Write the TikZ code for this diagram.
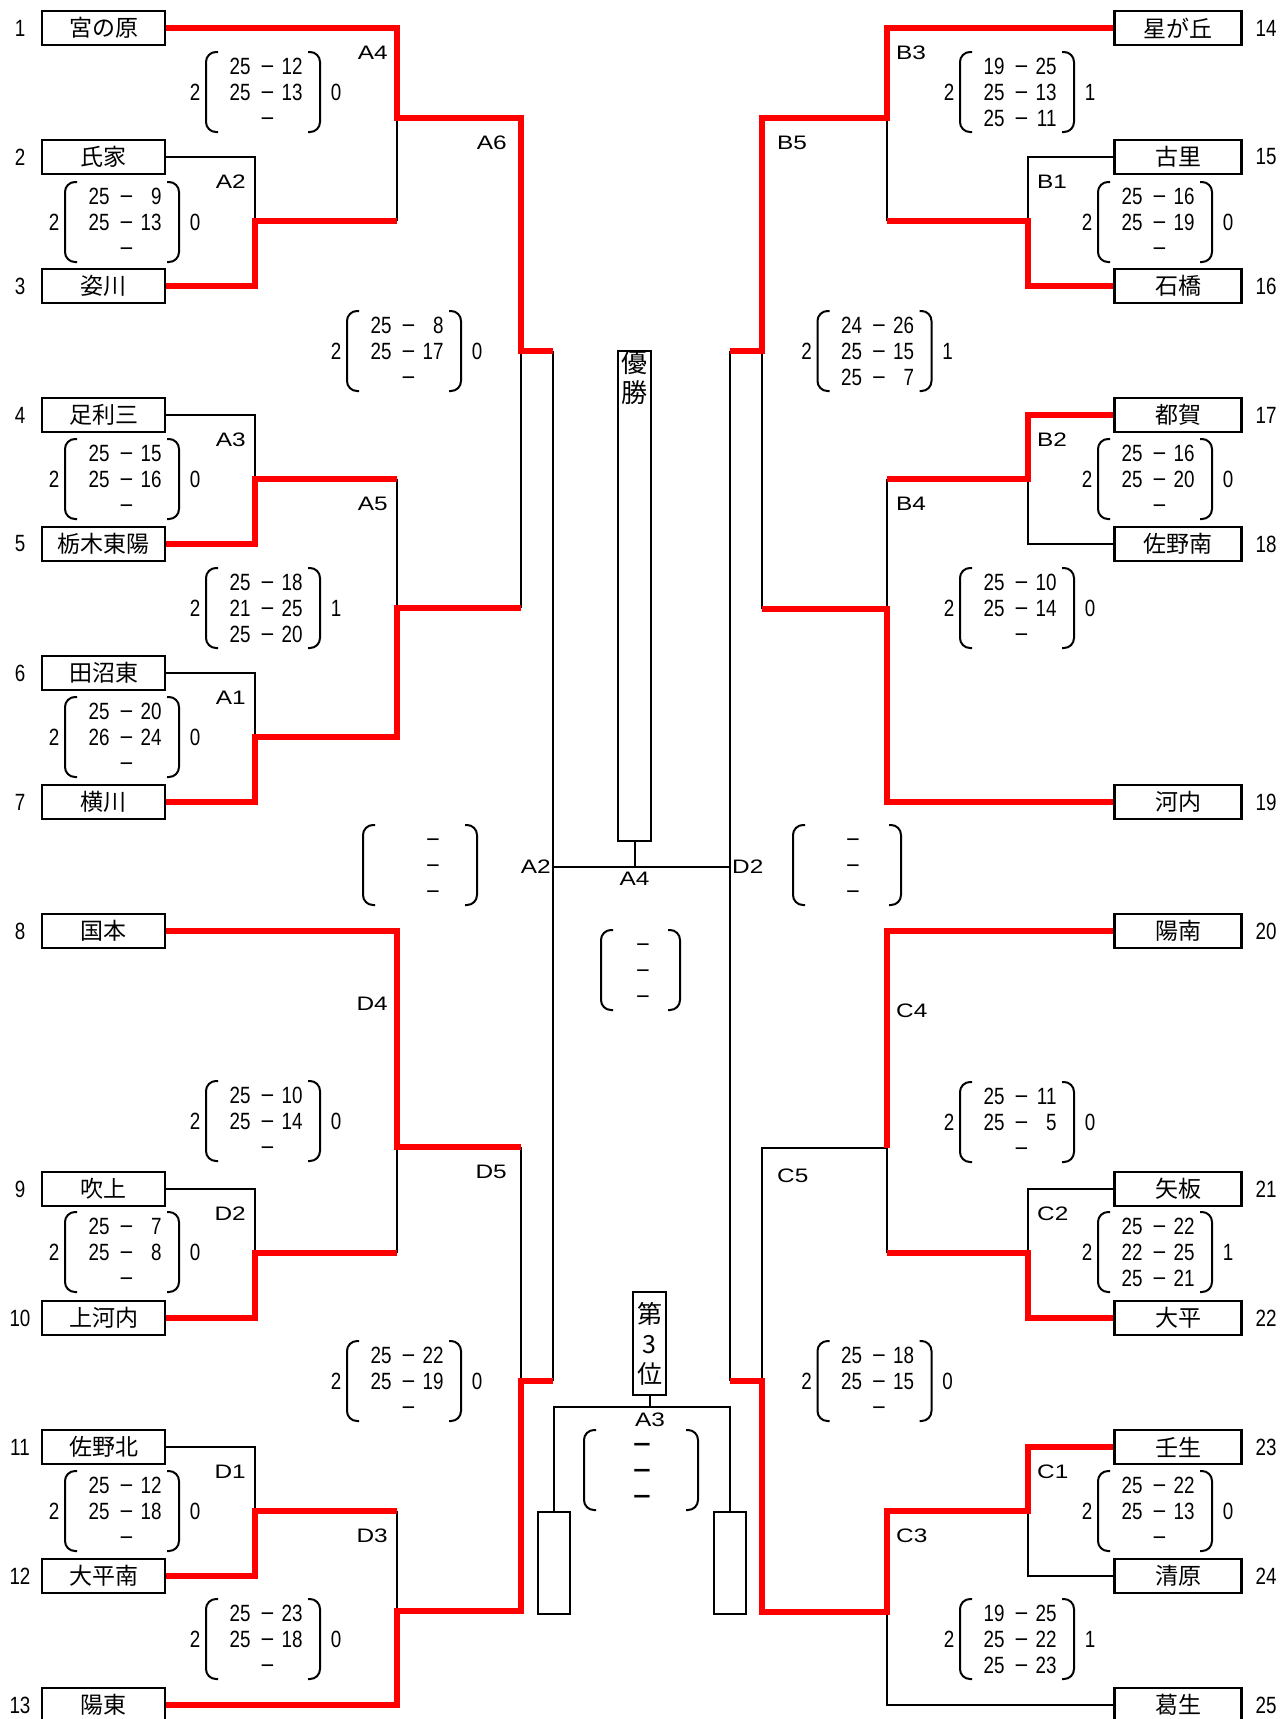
\documentclass[tikz,border=0pt]{standalone}
\usepackage{fontspec}
\setmainfont{Liberation Sans}
\newfontfamily\cjk{Noto Sans CJK JP}
\newfontfamily\scorefont[FakeStretch=0.8]{Liberation Sans}
\newfontfamily\labelfont[FakeStretch=1.25]{Liberation Sans}
\newfontfamily\dashfont[FakeStretch=1.3]{Liberation Sans}

\definecolor{winred}{RGB}{255,0,0}

\tikzset{
  team/.style={draw, line width=2.5pt, fill=white, minimum width=123pt, minimum height=34pt,
    inner sep=0pt, font=\cjk\fontsize{23}{23}\selectfont},
  rteam/.style={team, minimum width=127pt},
  seed/.style={font=\scorefont\fontsize{23.5}{26}\selectfont, inner sep=0pt},
  setrow/.style={font=\scorefont\fontsize{23.5}{26}\selectfont, inner sep=0pt, anchor=base},
  plaindash/.style={font=\rmfamily\fontsize{23.5}{26}\selectfont},
  bigdash/.style={font=\dashfont\bfseries\fontsize{23.5}{26}\selectfont},
  rnd/.style={font=\labelfont\fontsize{19.5}{19.5}\selectfont, inner sep=0pt},
  lose/.style={line width=2pt, black},
  win/.style={line width=6pt, winred},
  paren/.style={line width=2pt, rounded corners=10pt},
  titlebox/.style={draw, line width=2.5pt, minimum width=33pt, inner sep=0pt},
}

% minus of a score row
\newcommand{\mn}{{\rmfamily −}}
% one score row: left points, minus, right points
\newcommand{\sr}[2]{\makebox[21pt][r]{#1}\hspace{11pt}\makebox[12pt]{\mn}\hspace{8pt}\makebox[21pt][r]{#2}\hspace{3pt}}

% name, x, y, sets won (left), sets won (right), row1, row2, row3
\newcommand{\setscore}[8]{%
  \begin{scope}[shift={(#2,#3)}]
    \draw[paren] (-45,-40) -- (-57,-40) -- (-57,40) -- (-45,40);
    \draw[paren] (45,-40) -- (57,-40) -- (57,40) -- (45,40);
    \node[seed] (#1-w) at (-68,0) {#4};
    \node[seed] (#1-l) at (73,0) {#5};
    \node[setrow] (#1-1) at (3,-17.6) {#6};
    \node[setrow] (#1-2) at (3,8.4) {#7};
    \node[setrow] (#1-3) at (3,34.4) {#8};
  \end{scope}}

% name, x, y, half width, dash offset, dash style
\newcommand{\blankscore}[6]{%
  \begin{scope}[shift={(#2,#3)}]
    \draw[paren] (12-#4,-40) -- (-#4,-40) -- (-#4,40) -- (12-#4,40);
    \draw[paren] (#4-12,-40) -- (#4,-40) -- (#4,40) -- (#4-12,40);
    \foreach \k/\dy in {1/-17.6, 2/8.4, 3/34.4}
      \node[setrow, #6] (#1-\k) at (#5,\dy) {−};
  \end{scope}}

\begin{document}
\begin{tikzpicture}[x=1pt, y=-1pt]
  \useasboundingbox (0,0) rectangle (1284,1719);

  % teams
  \foreach \n/\r/\name in {1/0/宮の原, 2/1/氏家, 3/2/姿川, 4/3/足利三, 5/4/栃木東陽,
      6/5/田沼東, 7/6/横川, 8/7/国本, 9/9/吹上, 10/10/上河内, 11/11/佐野北,
      12/12/大平南, 13/13/陽東}{
    \node[team] (t\n) at (103.5,{28+129*\r}) {\name};
    \node[seed] (n\n) at (20,{28+129*\r}) {\n};
  }
  \foreach \n/\r/\name in {14/0/星が丘, 15/1/古里, 16/2/石橋, 17/3/都賀, 18/4/佐野南,
      19/6/河内, 20/7/陽南, 21/9/矢板, 22/10/大平, 23/11/壬生, 24/12/清原, 25/13/葛生}{
    \node[rteam] (t\n) at (1178,{28+129*\r}) {\name};
    \node[seed] (n\n) at (1266,{28+129*\r}) {\n};
  }

  % match points
  \coordinate (mA2) at (255,221);  \coordinate (mA4) at (397,118);
  \coordinate (mA6) at (521,351);  \coordinate (mA3) at (255,479);
  \coordinate (mA5) at (397,608);  \coordinate (mA1) at (255,737);
  \coordinate (mD4) at (397,1147); \coordinate (mD2) at (255,1253);
  \coordinate (mD5) at (521,1381); \coordinate (mD1) at (255,1511);
  \coordinate (mD3) at (397,1611);
  \coordinate (mB1) at (1028,221); \coordinate (mB3) at (887,118);
  \coordinate (mB5) at (762,351);  \coordinate (mB2) at (1028,479);
  \coordinate (mB4) at (887,609);  \coordinate (mC4) at (887,1148);
  \coordinate (mC2) at (1028,1253);\coordinate (mC5) at (762,1381);
  \coordinate (mC1) at (1028,1511);\coordinate (mC3) at (887,1612);
  \coordinate (inL) at (553,351);  \coordinate (inLb) at (553,1381);
  \coordinate (inR) at (730,351);  \coordinate (inRb) at (730,1381);

  % final and third place
  \node[titlebox, minimum height=490pt] (champ) at (634.5,596) {};
  \node[anchor=north, align=center, inner sep=1pt, font=\cjk\fontsize{26}{30}\selectfont]
    (champtxt) at (champ.north) {優\\勝};
  \coordinate (fin) at (634.5,867);
  \node[titlebox, minimum height=103pt, align=center, font=\cjk\fontsize{25}{30}\selectfont]
    (third) at (649.5,1343.5) {第\\3\\位};
  \coordinate (thr) at (649.5,1407);
  \node[draw, line width=2pt, minimum width=32pt, minimum height=102pt] (semiL) at (554,1563) {};
  \node[draw, line width=2pt, minimum width=32pt, minimum height=102pt] (semiR) at (729.5,1563) {};

  % losing lines
  \draw[lose] (t2.east) -| (mA2);
  \draw[lose] (mA2 -| mA4) -- (mA4);
  \draw[lose] (t4.east) -| (mA3);
  \draw[lose] (mA3 -| mA5) -- (mA5);
  \draw[lose] (t6.east) -| (mA1);
  \draw[lose] (mA5 -| mA6) -- (mA6);
  \draw[lose] (mD4 -| mD5) -- (mD5);
  \draw[lose] (t9.east) -| (mD2);
  \draw[lose] (mD2 -| mD4) -- (mD4);
  \draw[lose] (t11.east) -| (mD1);
  \draw[lose] (mD1 -| mD3) -- (mD3);
  \draw[lose] (inL) -- (inLb);
  \draw[lose] (t15.west) -| (mB1);
  \draw[lose] (mB1 -| mB3) -- (mB3);
  \draw[lose] (t18.west) -| (mB2);
  \draw[lose] (mB2 -| mB4) -- (mB4);
  \draw[lose] (mB4 -| mB5) -- (mB5);
  \draw[lose] (mC4) -- (mC4 -| mC5) -- (mC5);
  \draw[lose] (t21.west) -| (mC2);
  \draw[lose] (mC2 -| mC4) -- (mC4);
  \draw[lose] (t24.west) -| (mC1);
  \draw[lose] (t25.west) -| (mC3);
  \draw[lose] (inR) -- (inRb);
  \draw[lose] (champ.south) -- (fin);
  \draw[lose] (inL |- fin) -- (inR |- fin);
  \draw[lose] (third.south) -- (thr);
  \draw[lose] (semiL.north) |- (thr) -| (semiR.north);

  % winning lines
  \draw[win] (t3.east) -| (mA2) -- (mA2 -| mA4);
  \draw[win] (t1.east) -| (mA4) -| (mA6) -- (inL);
  \draw[win] (t5.east) -| (mA3) -- (mA3 -| mA5);
  \draw[win] (t7.east) -| (mA1) -| (mA5) -- (mA5 -| mA6);
  \draw[win] (t8.east) -| (mD4) -- (mD4 -| mD5);
  \draw[win] (t10.east) -| (mD2) -- (mD2 -| mD4);
  \draw[win] (t12.east) -| (mD1) -- (mD1 -| mD3);
  \draw[win] (t13.east) -| (mD3) -| (mD5) -- (inLb);
  \draw[win] (t16.west) -| (mB1) -- (mB1 -| mB3);
  \draw[win] (t14.west) -| (mB3) -| (mB5) -- (inR);
  \draw[win] (t17.west) -| (mB2) -- (mB2 -| mB4);
  \draw[win] (t19.west) -| (mB4) -- (mB4 -| mB5);
  \draw[win] (t20.west) -| (mC4);
  \draw[win] (t22.west) -| (mC2) -- (mC2 -| mC4);
  \draw[win] (t23.west) -| (mC1) -- (mC1 -| mC3) -- (mC3) -| (mC5) -- (inRb);

  % round labels
  \foreach \m/\x/\y in {A4/388/53, A2/246/182, A6/507/143, A3/246/440, A5/388/504,
      A1/246/698, D4/388/1004, D5/507/1172, D2/246/1214, D1/246/1472, D3/388/1536}
    \node[rnd, anchor=east] (l\m) at (\x,\y) {\m};
  \foreach \m/\x/\y in {B3/896/53, B1/1037/182, B5/777/143, B2/1037/440, B4/896/504,
      C4/896/1011, C5/777/1176, C2/1037/1214, C1/1037/1472, C3/896/1536}
    \node[rnd, anchor=west] (l\m) at (\x,\y) {\m};
  \node[rnd, anchor=east] (fA2) at (551,867) {A2};
  \node[rnd, anchor=west] (fD2) at (732,867) {D2};
  \node[rnd] (fA4) at (634.5,879) {A4};
  \node[rnd] (fA3) at (650,1420) {A3};

  % set scores
  \setscore{sA4}{263}{92}{2}{0}{\sr{25}{12}}{\sr{25}{13}}{\sr{}{}}
  \setscore{sA2}{122}{222}{2}{0}{\sr{25}{9}}{\sr{25}{13}}{\sr{}{}}
  \setscore{sA6}{404}{351}{2}{0}{\sr{25}{8}}{\sr{25}{17}}{\sr{}{}}
  \setscore{sA3}{122}{479}{2}{0}{\sr{25}{15}}{\sr{25}{16}}{\sr{}{}}
  \setscore{sA5}{263}{608}{2}{1}{\sr{25}{18}}{\sr{21}{25}}{\sr{25}{20}}
  \setscore{sA1}{122}{737}{2}{0}{\sr{25}{20}}{\sr{26}{24}}{\sr{}{}}
  \setscore{sD4}{263}{1121}{2}{0}{\sr{25}{10}}{\sr{25}{14}}{\sr{}{}}
  \setscore{sD2}{122}{1252}{2}{0}{\sr{25}{7}}{\sr{25}{8}}{\sr{}{}}
  \setscore{sD5}{404}{1381}{2}{0}{\sr{25}{22}}{\sr{25}{19}}{\sr{}{}}
  \setscore{sD1}{122}{1511}{2}{0}{\sr{25}{12}}{\sr{25}{18}}{\sr{}{}}
  \setscore{sD3}{263}{1639}{2}{0}{\sr{25}{23}}{\sr{25}{18}}{\sr{}{}}
  \setscore{sB3}{1017}{92}{2}{1}{\sr{19}{25}}{\sr{25}{13}}{\sr{25}{11}}
  \setscore{sB1}{1155}{222}{2}{0}{\sr{25}{16}}{\sr{25}{19}}{\sr{}{}}
  \setscore{sB5}{874.5}{351}{2}{1}{\sr{24}{26}}{\sr{25}{15}}{\sr{25}{7}}
  \setscore{sB2}{1155}{479}{2}{0}{\sr{25}{16}}{\sr{25}{20}}{\sr{}{}}
  \setscore{sB4}{1017}{608}{2}{0}{\sr{25}{10}}{\sr{25}{14}}{\sr{}{}}
  \setscore{sC4}{1017}{1122}{2}{0}{\sr{25}{11}}{\sr{25}{5}}{\sr{}{}}
  \setscore{sC2}{1155}{1252}{2}{1}{\sr{25}{22}}{\sr{22}{25}}{\sr{25}{21}}
  \setscore{sC5}{874.5}{1381}{2}{0}{\sr{25}{18}}{\sr{25}{15}}{\sr{}{}}
  \setscore{sC1}{1155}{1511}{2}{0}{\sr{25}{22}}{\sr{25}{13}}{\sr{}{}}
  \setscore{sC3}{1017}{1639}{2}{1}{\sr{19}{25}}{\sr{25}{22}}{\sr{25}{23}}

  % unplayed
  \blankscore{sAD}{420}{865}{57}{13}{plaindash}
  \blankscore{sBC}{847}{865}{54}{6}{plaindash}
  \blankscore{sFin}{640.5}{970}{39.5}{2.5}{plaindash}
  \blankscore{sThr}{641}{1470}{57}{1}{bigdash}
\end{tikzpicture}
\end{document}
